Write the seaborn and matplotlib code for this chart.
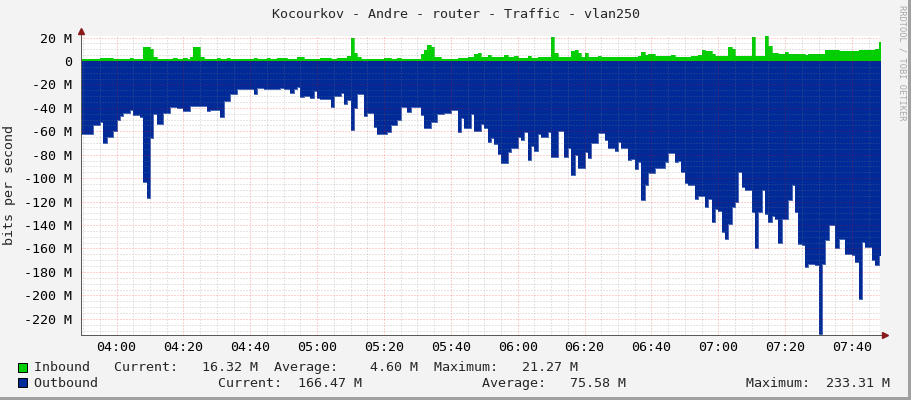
import numpy as np
import pandas as pd
import matplotlib
matplotlib.use('Agg')
import matplotlib.pyplot as plt
import matplotlib.dates as mdates
from matplotlib.ticker import MultipleLocator, FuncFormatter
from matplotlib.patches import Rectangle
import seaborn as sns

# one sample per minute, first sample at 03:49
start_time = '2024-05-14 03:49'

# Inbound traffic (M bits/s)
inbound = [
    1.7, 1.7, 1.7, 1.7, 1.7, 1.7, 2.6, 2.6, 2.6, 2.3,
    1.8, 1.8, 2.0, 1.8, 1.8, 2.3, 1.8, 1.8, 1.8, 11.7,
    11.7, 10.5, 3.0, 2.0, 1.8, 1.8, 1.7, 1.7, 2.3, 1.7,
    1.7, 2.4, 1.7, 3.7, 11.7, 11.7, 3.1, 1.7, 1.7, 1.7,
    1.7, 2.8, 1.7, 1.7, 2.3, 1.7, 1.7, 1.7, 2.0, 1.7,
    1.7, 1.7, 2.8, 1.7, 1.7, 1.7, 2.3, 1.7, 1.7, 2.8,
    2.8, 2.8, 1.4, 1.4, 1.4, 3.7, 3.7, 2.0, 1.4, 1.4,
    1.4, 1.4, 2.3, 2.3, 2.8, 1.4, 1.4, 2.3, 2.3, 2.3,
    4.0, 19.9, 7.1, 3.7, 1.4, 1.4, 1.4, 1.4, 1.4, 1.4,
    2.0, 2.8, 2.8, 2.0, 2.0, 2.8, 1.7, 1.7, 1.7, 1.7,
    1.7, 1.7, 5.7, 9.4, 13.7, 12.3, 3.7, 3.7, 1.7, 1.7,
    1.7, 1.7, 1.7, 2.8, 2.8, 2.8, 3.7, 3.7, 5.7, 7.1,
    3.7, 3.7, 5.1, 3.4, 3.4, 3.4, 3.4, 5.1, 3.7, 3.7,
    4.5, 2.8, 2.8, 2.8, 4.0, 2.8, 2.8, 3.1, 3.1, 3.1,
    3.1, 20.8, 7.1, 3.1, 3.1, 3.1, 3.1, 8.5, 9.4, 7.1,
    3.7, 7.1, 3.1, 3.1, 3.1, 4.3, 3.1, 3.1, 3.1, 3.1,
    3.1, 3.1, 3.1, 3.1, 3.1, 3.1, 3.1, 4.5, 7.4, 5.1,
    5.7, 5.7, 4.3, 4.3, 4.3, 4.3, 4.3, 5.1, 3.4, 3.4,
    3.1, 3.1, 3.1, 4.5, 4.5, 5.1, 9.4, 8.5, 8.5, 5.7,
    4.5, 4.5, 4.5, 4.5, 12.3, 10.3, 4.5, 4.3, 4.3, 4.3,
    4.3, 20.3, 4.5, 4.5, 4.5, 21.3, 13.0, 7.1, 7.1, 5.7,
    5.7, 7.4, 5.7, 5.7, 6.0, 5.7, 5.7, 5.4, 5.7, 5.7,
    5.7, 5.7, 5.7, 9.4, 9.4, 9.4, 9.4, 8.3, 8.3, 8.3,
    8.3, 8.3, 8.3, 9.4, 9.4, 9.4, 9.4, 9.4, 10.3, 16.3,
]

# Outbound traffic (M bits/s, drawn below zero)
outbound = [
    -62, -62, -62, -62, -55, -55, -52, -70, -65, -65,
    -60, -50, -47, -44, -44, -42, -46, -46, -48, -103,
    -117, -66, -45, -54, -54, -44, -44, -39, -39, -40.5,
    -40.5, -43, -43, -38, -38, -38, -38, -38, -43, -42,
    -42, -42, -48, -34, -34, -28.5, -28.5, -24, -24, -24,
    -24, -24, -28.5, -23, -23, -24, -24, -24, -24, -24,
    -23.4, -24, -24, -27.6, -24, -22, -30.5, -30, -30, -32,
    -26, -31.4, -32.5, -32.5, -32.5, -39, -30, -30, -27.6, -37,
    -33, -59, -40.5, -28.5, -28.5, -46.7, -44, -44, -56, -62.7,
    -62.7, -62.7, -61, -55, -55, -50.4, -39, -39, -43.3, -39,
    -39, -39, -46, -57, -57, -52, -52, -45.6, -45.6, -44,
    -44, -42, -42, -60.4, -49, -57.5, -57.5, -45.6, -59.8, -59.8,
    -54, -57.5, -69, -66, -71, -79, -87.4, -87.4, -77.5, -74,
    -74, -64.7, -67.5, -60.4, -84.6, -72.4, -77, -62.5, -64.7, -64.7,
    -61, -81.8, -81.8, -59.8, -59.8, -81.8, -74.6, -97.4, -80.3, -91.7,
    -91.7, -77.5, -83.2, -70.4, -70.4, -61.8, -61.8, -67.5, -74, -74,
    -76.9, -69.3, -74.6, -74.6, -84.6, -84, -92.3, -86.6, -118.8, -106,
    -95.2, -95.2, -91.7, -91.7, -91.7, -86.6, -78.9, -78.9, -86, -85,
    -94.6, -104.5, -106, -106, -117.4, -115.1, -115.1, -124.5, -118, -137.3,
    -126, -128, -146, -151.5, -138.7, -124.5, -120.2, -94.6, -107.4, -110.3,
    -110.3, -128.8, -159.6, -128.8, -110.3, -130.2, -137.3, -132, -134.5, -155,
    -134.5, -134.5, -118.8, -106, -128.8, -155.9, -157.3, -175.8, -172.9, -172.9,
    -174, -233.3, -172.9, -153, -140.2, -140.2, -159.6, -151.5, -151.5, -164.4,
    -164.4, -165.8, -171.5, -202.8, -154.4, -158.7, -158.7, -170, -173.8, -166.5,
]

legend_in = 'Inbound   Current:   16.32 M  Average:    4.60 M  Maximum:   21.27 M'
legend_out = ('Outbound' + ' ' * 15 + 'Current:  166.47 M' + ' ' * 15
              + 'Average:   75.58 M' + ' ' * 15 + 'Maximum:  233.31 M')

sns.set_style('white')
plt.rcParams['font.family'] = ['DejaVu Sans Mono']
plt.rcParams['font.size'] = 9.6

green = '#00CF00'
blue = '#002A97'
axis_col = '#5A5A5A'
arrow_col = '#8B1A1A'

# extra point so the last minute is drawn as a full step
times = pd.date_range(start_time, periods=len(outbound) + 1, freq='min')
inb = np.append(inbound, inbound[-1])
outb = np.append(outbound, outbound[-1])

fig = plt.figure(figsize=(9.11, 4.0), dpi=100, facecolor='#F3F3F3')
ax = fig.add_axes([80.5 / 911, 65 / 400, 799.5 / 911, 299 / 400])
ax.set_facecolor('white')

ax.fill_between(times, 0, inb, step='post', color=green, lw=0, zorder=1)
ax.fill_between(times, 0, outb, step='post', color=blue, lw=0, zorder=1)
sns.lineplot(x=times, y=inb, drawstyle='steps-post', color=green, lw=0.5, ax=ax, zorder=1.5)
sns.lineplot(x=times, y=outb, drawstyle='steps-post', color=blue, lw=0.5, ax=ax, zorder=1.5)

ax.set_xlim(pd.Timestamp('2024-05-14 03:49:12'), pd.Timestamp('2024-05-14 07:48:24'))
ax.set_ylim(-233.8, 21.3)

ax.xaxis.set_major_locator(mdates.MinuteLocator(byminute=[0, 20, 40]))
ax.xaxis.set_minor_locator(mdates.MinuteLocator(byminute=range(0, 60, 5)))
ax.xaxis.set_major_formatter(mdates.DateFormatter('%H:%M'))
ax.yaxis.set_major_locator(MultipleLocator(20))
ax.yaxis.set_minor_locator(MultipleLocator(5))
ax.yaxis.set_major_formatter(FuncFormatter(lambda v, p: '0' if abs(v) < 1e-9 else f'{v:.0f} M'))
ax.set_xlabel('')
ax.set_ylabel('')

# grid drawn over the data, semi-transparent like rrdtool
ax.set_axisbelow(False)
ax.grid(which='minor', color='#808080', alpha=0.4, ls=(0, (1, 2)), lw=0.72)
ax.grid(which='major', color='#FF0000', alpha=0.35, ls=(0, (1, 2)), lw=0.72)

for s in ['top', 'right']:
    ax.spines[s].set_visible(False)
for s in ['left', 'bottom']:
    ax.spines[s].set_color(axis_col)
    ax.spines[s].set_linewidth(0.72)

ax.tick_params(which='major', length=2.2, width=0.72, color=axis_col, labelcolor='black', labelsize=9.6)
ax.tick_params(which='minor', length=1.5, width=0.72, color=axis_col, direction='inout')
ax.tick_params(axis='y', which='major', pad=4)
ax.tick_params(axis='x', which='major', pad=2)

# axis arrows
ax.plot([0, 0], [1, 1 + 7 / 299], transform=ax.transAxes, clip_on=False, color=axis_col, lw=0.72)
ax.plot([0], [1 + 5 / 299], marker='^', ms=5, color=arrow_col, transform=ax.transAxes, clip_on=False)
ax.plot([1, 1 + 7 / 800], [0, 0], transform=ax.transAxes, clip_on=False, color=axis_col, lw=0.72)
ax.plot([1 + 5 / 800], [0], marker='>', ms=5, color=arrow_col, transform=ax.transAxes, clip_on=False)

fig.text(0.5, 1 - 14 / 400, 'Kocourkov - Andre - router - Traffic - vlan250', ha='center', va='center')
fig.text(10 / 911, 1 - 185 / 400, 'bits per second', rotation=90, ha='center', va='center')
fig.text(902 / 911, 1 - 5 / 400, 'RRDTOOL / TOBI OETIKER', rotation=270, ha='center', va='top',
         fontsize=6.2, color='#A8A8A8')

# legend
fig.add_artist(Rectangle((18 / 911, 28 / 400), 9 / 911, 9 / 400, fc=green, ec='black', lw=0.7,
                         transform=fig.transFigure))
fig.add_artist(Rectangle((18 / 911, 13 / 400), 9 / 911, 9 / 400, fc=blue, ec='black', lw=0.7,
                         transform=fig.transFigure))
fig.text(33.7 / 911, 1 - 368 / 400, legend_in, ha='left', va='center')
fig.text(33.7 / 911, 1 - 383.5 / 400, legend_out, ha='left', va='center')

# shadow border on the right and bottom
fig.add_artist(Rectangle((908 / 911, 0), 3 / 911, 1, fc='#A0A0A0', ec='none', transform=fig.transFigure))
fig.add_artist(Rectangle((0, 0), 1, 3 / 400, fc='#A0A0A0', ec='none', transform=fig.transFigure))

fig.savefig('out.png', dpi=100)
